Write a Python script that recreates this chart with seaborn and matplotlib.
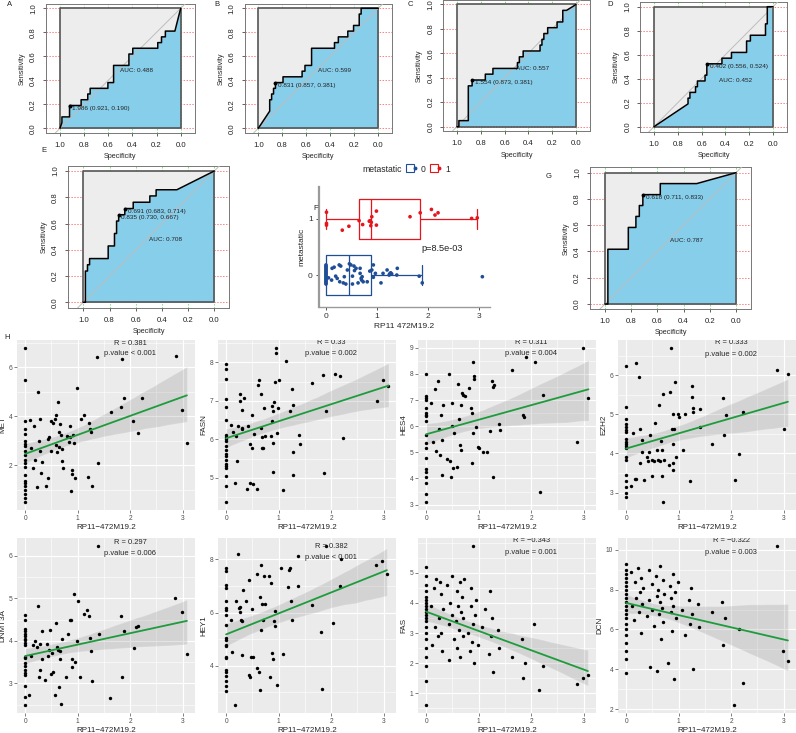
import numpy as np
import pandas as pd
import matplotlib
matplotlib.use("Agg")
import matplotlib.pyplot as plt
import matplotlib.transforms as mtransforms
from matplotlib.lines import Line2D
from matplotlib.legend_handler import HandlerTuple
from matplotlib.ticker import AutoMinorLocator
import seaborn as sns

sns.set_theme(style="white")
plt.rcParams['font.family'] = ['Liberation Sans', 'DejaVu Sans']

# --------------------------- ROC curves (specificity, sensitivity) ---------------------------
A_spec = [1.000, 0.984, 0.984, 0.921, 0.921, 0.825, 0.825, 0.770, 0.770, 0.750, 0.750, 0.603, 0.603, 0.556,
          0.556, 0.429, 0.429, 0.397, 0.397, 0.190, 0.190, 0.159, 0.159, 0.127, 0.127, 0.048, 0.000]
A_sens = [0.000, 0.048, 0.095, 0.095, 0.190, 0.190, 0.238, 0.238, 0.286, 0.286, 0.333, 0.333, 0.381, 0.381,
          0.524, 0.524, 0.619, 0.619, 0.667, 0.667, 0.714, 0.714, 0.762, 0.762, 0.810, 0.810, 1.000]

B_spec = [1.000, 0.905, 0.905, 0.889, 0.889, 0.873, 0.873, 0.857, 0.857, 0.794, 0.794, 0.635, 0.635, 0.611, 0.611,
          0.556, 0.556, 0.365, 0.365, 0.333, 0.333, 0.254, 0.254, 0.206, 0.206, 0.159, 0.159, 0.143, 0.143, 0.000]
B_sens = [0.000, 0.143, 0.238, 0.238, 0.286, 0.286, 0.333, 0.333, 0.381, 0.381, 0.429, 0.429, 0.476, 0.476, 0.524,
          0.524, 0.667, 0.667, 0.714, 0.714, 0.762, 0.762, 0.810, 0.810, 0.857, 0.857, 0.952, 0.952, 1.000, 1.000]

C_spec = [1.000, 0.984, 0.984, 0.905, 0.905, 0.873, 0.873, 0.762, 0.762, 0.698, 0.698, 0.492, 0.492, 0.476, 0.476,
          0.444, 0.444, 0.302, 0.302, 0.286, 0.286, 0.270, 0.270, 0.238, 0.238, 0.159, 0.159, 0.111, 0.111, 0.079, 0.000]
C_sens = [0.000, 0.000, 0.048, 0.048, 0.333, 0.333, 0.381, 0.381, 0.429, 0.429, 0.476, 0.476, 0.524, 0.524, 0.571,
          0.571, 0.619, 0.619, 0.667, 0.667, 0.714, 0.714, 0.762, 0.762, 0.810, 0.810, 0.857, 0.857, 0.952, 0.952, 1.000]

D_spec = [1.000, 0.714, 0.714, 0.698, 0.698, 0.651, 0.651, 0.635, 0.635, 0.571, 0.571, 0.556, 0.556, 0.429, 0.429,
          0.349, 0.349, 0.222, 0.222, 0.190, 0.190, 0.063, 0.063, 0.048, 0.048, 0.000]
D_sens = [0.000, 0.190, 0.238, 0.238, 0.286, 0.286, 0.333, 0.333, 0.381, 0.381, 0.429, 0.429, 0.524, 0.524, 0.571,
          0.571, 0.619, 0.619, 0.714, 0.714, 0.762, 0.762, 0.857, 0.857, 1.000, 1.000]

E_spec = [1.000, 0.984, 0.984, 0.968, 0.968, 0.952, 0.952, 0.810, 0.810, 0.762, 0.762, 0.746, 0.746, 0.730, 0.730,
          0.683, 0.683, 0.619, 0.619, 0.492, 0.492, 0.444, 0.444, 0.286, 0.000]
E_sens = [0.000, 0.000, 0.238, 0.238, 0.286, 0.286, 0.333, 0.333, 0.429, 0.429, 0.524, 0.524, 0.619, 0.619, 0.667,
          0.667, 0.714, 0.714, 0.762, 0.762, 0.810, 0.810, 0.857, 0.857, 1.000]

G_spec = [1.000, 0.978, 0.978, 0.822, 0.822, 0.764, 0.764, 0.738, 0.738, 0.711, 0.711, 0.578, 0.578, 0.300, 0.000]
G_sens = [0.000, 0.000, 0.417, 0.417, 0.583, 0.583, 0.667, 0.667, 0.750, 0.750, 0.833, 0.833, 0.917, 0.917, 1.000]

# best thresholds (specificity, sensitivity, label)
A_thr = [(0.921, 0.190, "1.986 (0.921, 0.190)")]
B_thr = [(0.857, 0.381, "0.831 (0.857, 0.381)")]
C_thr = [(0.873, 0.381, "1.554 (0.873, 0.381)")]
D_thr = [(0.556, 0.524, "0.402 (0.556, 0.524)")]
E_thr = [(0.683, 0.714, "0.691 (0.683, 0.714)"), (0.730, 0.667, "0.835 (0.730, 0.667)")]
G_thr = [(0.711, 0.833, "0.618 (0.711, 0.833)")]

auc_labels = {"A": "AUC: 0.488", "B": "AUC: 0.599", "C": "AUC: 0.557", "D": "AUC: 0.452",
              "E": "AUC: 0.708", "G": "AUC: 0.787"}

# --------------------------- F: boxplot data (RP11 472M19.2 by metastatic) ---------------------------
red_x = [0.01, 0.01, 0.01, 0.32, 0.45, 0.65, 0.72, 0.85, 0.87, 0.89, 0.90, 0.88, 0.99, 0.99, 1.65, 1.85, 2.07,
         2.14, 2.20, 2.86, 2.97]
red_jit = [0.12, -0.08, -0.11, -0.20, -0.13, -0.03, -0.10, -0.04, -0.03, -0.06, 0.04, -0.12, 0.14, -0.11, 0.04,
           0.11, 0.17, 0.07, 0.11, 0.01, 0.02]
blue_x = [0, 0, 0, 0, 0, 0, 0, 0, 0, 0, 0, 0, 0, 0, 0, 0, 0, 0, 0.05,
          0.12, 0.16, 0.11, 0.19, 0.22, 0.26, 0.27, 0.29, 0.34, 0.36, 0.39, 0.42, 0.46, 0.49, 0.52, 0.52, 0.55,
          0.56, 0.59, 0.63, 0.67, 0.69, 0.70, 0.71, 0.67, 0.73, 0.81, 0.86, 0.90, 0.93, 0.93, 0.97, 1.08, 1.12,
          1.20, 1.24, 1.25, 1.27, 1.29, 1.39, 1.40, 1.83, 1.89, 3.07]
blue_jit = [0.16, 0.12, 0.08, 0.04, 0.00, -0.04, -0.08, -0.12, -0.16, 0.14, 0.10, 0.06, 0.02, -0.02, -0.06, -0.10,
            -0.14, 0.18, -0.05,
            0.12, 0.14, -0.09, -0.02, -0.06, 0.18, -0.12, 0.16, -0.14, -0.03, -0.16, 0.09, 0.20, 0.18, -0.02, -0.16,
            0.16, 0.08, 0.12, -0.14, 0.12, -0.06, -0.09, -0.03, 0.03, -0.12, -0.12, 0.07, 0.09, 0.18, -0.04, 0.03,
            -0.14, 0.03, 0.09, 0.00, 0.02, 0.04, 0.02, 0.00, 0.12, -0.02, -0.14, -0.03]

# --------------------------- H: correlation scatter data ---------------------------
met_x = [0, 0, 0, 0, 0, 0, 0, 0, 0, 0, 0, 0, 0, 0, 0, 0, 0, 0, 0, 0, 0,
         0.10, 0.12, 0.15, 0.17, 0.18, 0.22, 0.24, 0.26, 0.29, 0.29, 0.30, 0.33, 0.39, 0.43, 0.43, 0.45, 0.50,
         0.50, 0.53, 0.57, 0.58, 0.59, 0.61, 0.63, 0.64, 0.65, 0.66, 0.69, 0.71, 0.71, 0.72, 0.80, 0.83, 0.85,
         0.85, 0.87, 0.89, 0.90, 0.91, 0.93, 0.95, 0.98, 1.06, 1.12, 1.19, 1.22, 1.23, 1.25, 1.28, 1.36, 1.39,
         1.64, 1.83, 1.85, 1.88, 2.06, 2.14, 2.22, 2.87, 2.99, 3.08]
met_y = [6.80, 5.47, 3.80, 3.49, 3.29, 3.00, 2.87, 2.77, 2.60, 2.40, 2.20, 2.11, 1.91, 1.60, 1.36, 1.27, 1.16,
         1.00, 0.84, 0.67, 0.49,
         3.83, 2.71, 1.87, 3.60, 2.23, 1.11, 5.00, 3.00, 3.91, 2.60, 1.67, 2.13, 1.16, 3.07, 1.47, 3.16, 2.60,
         3.80, 3.72, 3.87, 4.07, 2.83, 2.53, 4.57, 3.37, 2.76, 3.67, 3.24, 2.67, 2.16, 1.89, 3.20, 2.97, 3.16,
         3.61, 0.96, 1.64, 1.80, 3.23, 2.91, 1.47, 5.16, 3.91, 4.04, 1.51, 3.73, 3.49, 3.37, 1.16, 6.44, 2.11,
         4.16, 4.36, 6.36, 4.76, 3.80, 3.33, 4.73, 6.47, 4.25, 2.93]

fasn_x = [0, 0, 0, 0, 0, 0, 0, 0, 0, 0, 0, 0, 0, 0, 0, 0, 0, 0, 0, 0, 0,
          0.10, 0.13, 0.17, 0.19, 0.20, 0.23, 0.26, 0.26, 0.30, 0.31, 0.34, 0.30, 0.39, 0.42, 0.45, 0.46, 0.49,
          0.50, 0.51, 0.53, 0.58, 0.61, 0.63, 0.66, 0.67, 0.68, 0.69, 0.71, 0.72, 0.74, 0.85, 0.87, 0.87, 0.89,
          0.90, 0.90, 0.91, 0.94, 0.95, 0.95, 0.96, 0.98, 1.00, 1.09, 1.14, 1.22, 1.26, 1.27, 1.27, 1.28, 1.39,
          1.41, 1.64, 1.85, 1.86, 1.91, 2.07, 2.16, 2.22, 2.88, 2.99, 3.09]
fasn_y = [7.96, 7.83, 7.56, 7.05, 6.83, 6.51, 6.12, 6.07, 6.01, 5.95, 5.84, 5.73, 5.61, 5.56, 5.46, 5.37, 5.31,
          5.27, 5.05, 4.78, 4.37,
          6.37, 6.19, 4.88, 6.09, 5.44, 6.35, 7.01, 7.17, 6.26, 6.29, 7.07, 6.77, 4.71, 6.36, 5.88, 4.88, 6.64,
          5.78, 4.85, 6.15, 4.71, 7.42, 7.55, 7.19, 6.29, 6.07, 5.78, 5.78, 6.81, 6.08, 6.09, 6.47, 6.86, 6.73,
          5.92, 5.16, 6.98, 7.49, 8.24, 8.38, 6.18, 6.81, 7.55, 4.69, 8.04, 6.75, 7.31, 5.67, 5.09, 6.90, 6.12,
          5.88, 7.47, 7.66, 5.12, 6.75, 7.70, 7.64, 6.05, 7.00, 7.53, 7.39]

hes4_x = [0, 0, 0, 0, 0, 0, 0, 0, 0, 0, 0, 0, 0, 0, 0, 0, 0, 0, 0,
          0.10, 0.13, 0.17, 0.18, 0.23, 0.24, 0.26, 0.29, 0.30, 0.31, 0.33, 0.39, 0.44, 0.45, 0.47, 0.49, 0.50,
          0.51, 0.53, 0.58, 0.60, 0.63, 0.64, 0.66, 0.67, 0.68, 0.71, 0.74, 0.82, 0.85, 0.87, 0.87, 0.89, 0.90,
          0.91, 0.92, 0.95, 0.98, 1.00, 1.08, 1.16, 1.22, 1.25, 1.27, 1.28, 1.29, 1.38, 1.41, 1.64, 1.85, 1.86,
          1.90, 2.07, 2.16, 2.22, 2.88, 2.99, 3.09]
hes4_y = [8.00, 7.16, 7.06, 7.00, 6.71, 6.50, 6.44, 6.38, 6.19, 5.65, 5.35, 5.15, 4.79, 4.38, 4.23, 4.06, 3.84,
          3.41, 3.09,
          6.88, 5.41, 7.41, 5.04, 7.73, 5.88, 4.88, 6.44, 4.13, 5.46, 6.81, 4.73, 8.00, 4.66, 4.06, 6.88, 6.00,
          4.41, 5.73, 4.44, 7.63, 6.29, 5.29, 5.09, 6.81, 7.28, 7.21, 7.16, 7.46, 6.69, 6.50, 4.60, 5.75, 8.44,
          7.90, 7.81, 5.96, 5.19, 5.16, 5.00, 5.00, 5.81, 7.71, 4.06, 7.50, 7.56, 6.09, 5.84, 8.13, 6.44, 6.36,
          8.63, 8.46, 3.48, 7.21, 5.41, 9.00, 7.06]

ezh2_x = [0, 0, 0, 0, 0, 0, 0, 0, 0, 0, 0, 0, 0, 0, 0, 0, 0, 0, 0,
          0.10, 0.13, 0.17, 0.18, 0.19, 0.24, 0.26, 0.26, 0.30, 0.31, 0.34, 0.39, 0.42, 0.44, 0.45, 0.49, 0.50,
          0.53, 0.55, 0.58, 0.60, 0.63, 0.64, 0.66, 0.68, 0.69, 0.71, 0.71, 0.73, 0.81, 0.83, 0.85, 0.87, 0.89,
          0.89, 0.90, 0.90, 0.92, 0.94, 0.95, 0.98, 1.00, 1.08, 1.13, 1.21, 1.26, 1.26, 1.27, 1.28, 1.40, 1.41,
          1.64, 1.85, 1.86, 1.90, 2.15, 2.07, 2.22, 2.88, 3.00, 3.08]
ezh2_y = [6.23, 5.18, 4.88, 4.75, 4.67, 4.61, 4.54, 4.38, 4.29, 4.25, 4.18, 4.13, 3.92, 3.83, 3.46, 3.29, 3.13,
          3.00, 2.88,
          3.17, 4.52, 3.35, 6.32, 3.35, 5.96, 4.63, 3.75, 4.35, 4.04, 3.33, 3.92, 3.82, 4.04, 4.48, 3.83, 3.43,
          3.82, 4.77, 4.10, 3.83, 5.25, 3.82, 4.33, 3.42, 4.10, 5.52, 2.75, 3.83, 3.71, 5.58, 6.71, 4.63, 5.02,
          4.25, 3.75, 3.58, 4.63, 5.83, 3.92, 5.00, 4.93, 4.08, 5.02, 3.29, 5.73, 5.46, 5.17, 5.07, 5.13, 4.67,
          4.25, 5.43, 4.48, 4.98, 3.98, 3.31, 5.06, 6.13, 4.64, 6.04]

dnmt3a_x = [0, 0, 0, 0, 0, 0, 0, 0, 0, 0, 0, 0, 0, 0, 0, 0, 0, 0, 0, 0,
            0.08, 0.11, 0.15, 0.18, 0.22, 0.24, 0.26, 0.28, 0.29, 0.32, 0.32, 0.37, 0.42, 0.44, 0.45, 0.48, 0.49,
            0.51, 0.53, 0.57, 0.59, 0.61, 0.63, 0.64, 0.66, 0.67, 0.71, 0.69, 0.77, 0.82, 0.85, 0.87, 0.89, 0.90,
            0.93, 0.95, 0.98, 1.00, 1.04, 1.12, 1.17, 1.21, 1.23, 1.25, 1.27, 1.38, 1.40, 1.62, 1.83, 1.85, 1.88,
            2.12, 2.07, 2.15, 2.86, 2.99, 3.08]
dnmt3a_y = [4.60, 4.50, 4.28, 4.23, 4.17, 4.11, 4.05, 4.01, 3.94, 3.91, 3.61, 3.59, 3.47, 3.40, 3.31, 3.24, 3.20,
            2.93, 2.69, 2.49,
            2.72, 3.65, 3.89, 3.99, 3.85, 4.83, 3.16, 3.31, 3.93, 4.24, 3.57, 3.08, 3.93, 3.65, 3.79, 4.26, 3.22,
            3.71, 3.26, 2.73, 4.42, 3.85, 3.79, 2.91, 3.57, 3.77, 4.05, 2.51, 3.16, 4.17, 4.48, 4.48, 3.39, 3.57,
            5.11, 3.50, 3.99, 4.94, 3.14, 4.62, 4.72, 4.59, 4.07, 3.77, 3.05, 6.23, 4.17, 2.65, 4.58, 3.14, 4.24,
            4.32, 3.83, 4.36, 5.01, 4.68, 3.69]

hey1_x = [0, 0, 0, 0, 0, 0, 0, 0, 0, 0, 0, 0, 0, 0, 0, 0, 0, 0, 0, 0, 0,
          0.10, 0.12, 0.17, 0.19, 0.22, 0.24, 0.26, 0.27, 0.28, 0.30, 0.31, 0.33, 0.38, 0.43, 0.43, 0.45, 0.47,
          0.49, 0.52, 0.58, 0.59, 0.62, 0.64, 0.65, 0.67, 0.67, 0.68, 0.70, 0.72, 0.75, 0.81, 0.84, 0.86, 0.88,
          0.90, 0.91, 0.93, 0.94, 0.96, 1.04, 1.09, 1.18, 1.20, 1.22, 1.23, 1.26, 1.36, 1.36, 1.63, 1.80, 1.82,
          1.90, 2.03, 2.16, 2.19, 2.86, 2.96, 3.06]
hey1_y = [7.66, 7.58, 7.04, 6.94, 6.42, 6.16, 6.08, 5.89, 5.54, 5.04, 4.98, 4.76, 4.72, 4.33, 4.27, 3.84, 3.74,
          3.62, 3.43, 3.22, 3.04,
          5.71, 4.52, 2.51, 6.45, 8.21, 6.16, 6.03, 6.22, 5.73, 5.67, 4.39, 6.84, 6.42, 7.23, 3.65, 3.58, 4.34,
          6.12, 4.34, 3.91, 7.45, 3.74, 3.09, 6.58, 5.34, 7.78, 6.32, 5.71, 7.39, 6.32, 7.39, 3.58, 7.13, 4.47,
          4.23, 5.69, 5.51, 6.06, 3.26, 7.69, 4.43, 6.97, 7.62, 7.67, 6.42, 5.73, 8.12, 7.00, 6.29, 5.25, 3.13,
          8.51, 5.60, 7.00, 8.01, 7.78, 7.95, 7.47]

fas_y = [5.20, 4.90, 4.60, 4.40, 4.20, 4.10, 4.00, 3.90, 3.80, 3.70, 3.60, 3.50, 3.40, 3.20, 3.00, 2.80, 2.50,
         2.20, 1.90, 1.40, 0.60,
         3.9, 2.6, 4.5, 3.2, 4.8, 2.9, 3.5, 4.7, 3.0, 4.3, 2.4, 3.8, 4.6, 3.3, 2.1, 4.0, 3.6, 4.9, 2.8, 3.4,
         4.4, 2.5, 3.9, 3.1, 4.7, 2.2, 3.7, 4.2, 2.9, 3.5, 4.8, 3.0, 2.4, 3.9, 4.5, 2.7, 3.3, 5.9, 2.0, 3.6,
         4.1, 2.6, 3.2, 3.8, 2.3, 4.4, 2.9, 3.5, 1.7, 3.1, 2.5, 2.2, 2.8, 1.5, 2.0, 3.3, 1.1, 1.9, 1.3, 1.5, 1.6]

dcn_y = [9.30, 9.00, 8.80, 8.60, 8.40, 8.20, 8.00, 7.80, 7.60, 7.40, 7.20, 7.00, 6.80, 6.60, 6.30, 6.00, 5.70,
         5.30, 4.90, 4.50, 3.80,
         8.9, 7.2, 6.5, 8.4, 7.6, 9.1, 6.9, 7.9, 8.6, 5.8, 7.3, 8.1, 6.7, 9.0, 7.5, 4.1, 8.3, 7.0, 6.2, 8.7,
         7.7, 3.9, 8.0, 6.8, 7.4, 9.2, 5.5, 7.1, 8.5, 6.4, 7.8, 4.3, 8.2, 6.9, 7.6, 5.9, 8.8, 7.2, 3.5, 7.9,
         6.6, 8.4, 7.0, 5.7, 7.5, 6.3, 8.1, 6.8, 4.0, 7.3, 6.1, 6.9, 7.4, 5.2, 6.6, 2.2, 6.0, 3.3, 10.2, 4.9, 4.4]

# --------------------------- Figure setup ---------------------------
W, H = 796, 733
fig = plt.figure(figsize=(W / 100, H / 100), dpi=100)
fig.patch.set_facecolor("white")


def px_axes(left, top, width, height):
    # place an axes by pixel position (from top-left of the figure)
    return fig.add_axes([left / W, 1 - (top + height) / H, width / W, height / H])


def roc_panel(bl, bt, ux, uy, spec, sens, thr, auc_txt, auc_xy):
    ax = px_axes(bl - 0.115 * ux, bt - 0.04 * uy, 1.23 * ux, 1.08 * uy)
    ax.set_xlim(1.115, -0.115)
    ax.set_ylim(-0.04, 1.04)
    ax.set_facecolor("white")
    grid_vals = [0, 0.2, 0.4, 0.6, 0.8, 1.0]
    for v in grid_vals:
        ax.axvline(v, color="#7CE07C", ls=(0, (1.5, 1.5)), lw=0.7, zorder=0)
        ax.axhline(v, color="#FF7F7F", ls=(0, (1.5, 1.5)), lw=0.7, zorder=0)
    ax.fill([1, 0, 0, 1], [0, 0, 1, 1], facecolor="#EDEDED", edgecolor="none", zorder=1)
    ax.fill_between(spec, sens, 0, color="#87CEEB", lw=0, zorder=2)
    ax.plot([1, 0, 0, 1, 1], [0, 0, 1, 1, 0], color="#555555", lw=1.2, zorder=3)
    ax.plot([1.2, -0.2], [-0.2, 1.2], color="#BDBDBD", lw=0.7, zorder=4)
    sns.lineplot(x=spec, y=sens, sort=False, estimator=None, color="black", lw=1.1, ax=ax, zorder=5)
    for sp, se, lab in thr:
        ax.plot(sp, se, "o", color="black", ms=1.8, zorder=6)
        ax.annotate(lab, (sp, se), xytext=(2, -0.3), textcoords="offset points", ha="left", va="top",
                    fontsize=4.6, color="#222222", zorder=7)
    ax.text(auc_xy[0], auc_xy[1], auc_txt, ha="left", va="top", fontsize=4.6, color="#222222", zorder=7)
    ax.set_xticks(grid_vals)
    ax.set_xticklabels([f"{v:.1f}" for v in grid_vals])
    ax.set_yticks(grid_vals)
    ax.set_yticklabels([f"{v:.1f}" for v in grid_vals], rotation=90, va="center")
    ax.tick_params(length=2.5, width=0.5, pad=4, labelsize=5.6, colors="#222222", bottom=True, left=True)
    ax.set_xlabel("Specificity", fontsize=5.2, labelpad=3)
    ax.set_ylabel("Sensitivity", fontsize=5.2, labelpad=3)
    for s in ax.spines.values():
        s.set_edgecolor("#777777")
        s.set_linewidth(0.7)
    return ax


# --------------------------- ROC panels A-D, E, G ---------------------------
roc_panel(60.0, 8.3, 120.7, 120.0, A_spec, A_sens, A_thr, auc_labels["A"], (0.50, 0.50))
roc_panel(258.3, 8.3, 120.0, 120.0, B_spec, B_sens, B_thr, auc_labels["B"], (0.50, 0.50))
roc_panel(457.0, 4.5, 119.0, 122.0, C_spec, C_sens, C_thr, auc_labels["C"], (0.50, 0.50))
roc_panel(654.0, 6.7, 119.0, 120.0, D_spec, D_sens, D_thr, auc_labels["D"], (0.45, 0.41))
roc_panel(83.3, 171.0, 131.0, 131.3, E_spec, E_sens, E_thr, auc_labels["E"], (0.50, 0.50))
roc_panel(605.0, 172.7, 131.0, 131.3, G_spec, G_sens, G_thr, auc_labels["G"], (0.50, 0.50))

# --------------------------- F: boxplot ---------------------------
col0, col1 = "#1F4E96", "#E8141B"
box_df = pd.DataFrame({
    "value": red_x + blue_x,
    "group": [1] * len(red_x) + [0] * len(blue_x),
    "jit": red_jit + blue_jit,
})
box_df["ypos"] = box_df["group"] + box_df["jit"]

axF = px_axes(319, 187, 171, 120)
sns.boxplot(data=box_df, x="value", y="group", hue="group", orient="h", native_scale=True,
            palette={0: col0, 1: col1}, fill=False, width=0.7, showfliers=False, linewidth=0.9,
            dodge=False, legend=False, ax=axF)
sns.scatterplot(data=box_df, x="value", y="ypos", hue="group", palette={0: col0, 1: col1},
                s=7, linewidth=0, legend=False, ax=axF, zorder=5)
axF.set_xlim(-0.137, 3.22)
axF.set_ylim(-0.57, 1.57)
axF.set_xticks([0, 1, 2, 3])
axF.set_yticks([0, 1])
axF.set_yticklabels(["0", "1"])
axF.tick_params(length=2.5, width=0.6, pad=2, labelsize=6, colors="#333333", bottom=True, left=True)
axF.set_xlabel("RP11 472M19.2", fontsize=6, labelpad=2)
axF.set_ylabel("metastatic", fontsize=6, labelpad=2)
axF.spines["top"].set_visible(False)
axF.spines["right"].set_visible(False)
axF.spines["left"].set_color("#9A9A9A")
axF.spines["left"].set_linewidth(1.6)
axF.spines["bottom"].set_color("#9A9A9A")
axF.spines["bottom"].set_linewidth(1.0)
axF.text(2.27, 0.48, "p=8.5e-03", ha="center", va="center", fontsize=6.6, color="#222222")

fig.text(362 / W, 1 - 169 / H, "metastatic", ha="left", va="center", fontsize=6.2)
leg_handles = [
    (Line2D([], [], marker="s", ms=6, mfc="white", mec=col0, mew=0.8, lw=0),
     Line2D([], [], marker="o", ms=1.8, color=col0, lw=0)),
    (Line2D([], [], marker="s", ms=6, mfc="white", mec=col1, mew=0.8, lw=0),
     Line2D([], [], marker="o", ms=1.8, color=col1, lw=0)),
]
fig.legend(leg_handles, ["0", "1"], handler_map={tuple: HandlerTuple(ndivide=None, pad=0)},
           loc="center left", bbox_to_anchor=(403 / W, 1 - 169 / H), ncol=2, frameon=False,
           fontsize=6.2, handlelength=1.2, handletextpad=0.4, columnspacing=0.6, borderpad=0)

# --------------------------- H: scatter panels with linear fit ---------------------------
green = "#1E9B3C"


def scatter_panel(left, top, x, y, ylab, yticks, r_txt, p_txt, r_y, p_y):
    ax = px_axes(left, top, 178, 170 if top < 400 else 175)
    ax.set_facecolor("#EBEBEB")
    sns.regplot(x=x, y=y, ax=ax, scatter=False, color="0.3", line_kws=dict(lw=0), seed=11)
    sns.regplot(x=x, y=y, ax=ax, ci=None, color="black",
                scatter_kws=dict(s=6, color="black", linewidths=0, alpha=1, zorder=3),
                line_kws=dict(color=green, lw=1.3, zorder=4))
    ax.set_xlim(-0.154, 3.234)
    ax.margins(y=0.05)
    ax.set_xticks([0, 1, 2, 3])
    ax.set_yticks(yticks)
    ax.xaxis.set_minor_locator(AutoMinorLocator(2))
    ax.yaxis.set_minor_locator(AutoMinorLocator(2))
    ax.set_axisbelow(True)
    ax.grid(which="major", color="white", lw=0.8)
    ax.grid(which="minor", color="white", lw=0.4)
    ax.tick_params(which="major", length=2, width=0.5, pad=1.5, labelsize=4.8, colors="#4D4D4D",
                   bottom=True, left=True)
    ax.tick_params(which="minor", length=0)
    for s in ax.spines.values():
        s.set_visible(False)
    ax.set_xlabel("RP11\u2212472M19.2", fontsize=5.8, labelpad=1.5)
    ax.set_ylabel(ylab, fontsize=5.8, labelpad=1.5)
    trans = mtransforms.blended_transform_factory(ax.transData, ax.transAxes)
    ax.text(2.0, r_y, r_txt, transform=trans, ha="center", va="center", fontsize=5.4, clip_on=True)
    ax.text(2.0, p_y, p_txt, transform=trans, ha="center", va="center", fontsize=5.4, clip_on=True)
    return ax


scatter_panel(17, 340, met_x, met_y, "MET", [2, 4, 6], "R = 0.381", "p.value < 0.001", 0.982, 0.92)
scatter_panel(218, 340, fasn_x, fasn_y, "FASN", [5, 6, 7, 8], "R = 0.33", "p.value = 0.002", 0.984, 0.92)
scatter_panel(418, 340, hes4_x, hes4_y, "HES4", [3, 4, 5, 6, 7, 8, 9], "R = 0.311", "p.value = 0.004", 0.984, 0.92)
scatter_panel(618, 340, ezh2_x, ezh2_y, "EZH2", [3, 4, 5, 6], "R = 0.333", "p.value = 0.002", 0.984, 0.915)
scatter_panel(17, 538, dnmt3a_x, dnmt3a_y, "DNMT3A", [3, 4, 5, 6], "R = 0.297", "p.value = 0.006", 0.977, 0.914)
scatter_panel(218, 538, hey1_x, hey1_y, "HEY1", [4, 6, 8], "R = 0.382", "p.value < 0.001", 0.954, 0.89)
scatter_panel(418, 538, met_x, fas_y, "FAS", [1, 2, 3, 4, 5], "R = \u22120.343", "p.value = 0.001", 0.985, 0.92)
scatter_panel(618, 538, met_x, dcn_y, "DCN", [2, 4, 6, 8, 10], "R = \u22120.322", "p.value = 0.003", 0.985, 0.92)

# --------------------------- panel letters ---------------------------
for letter, (lx, ly) in {"A": (10, 5), "B": (217, 5), "C": (410, 4), "D": (610, 4), "E": (44, 150),
                         "F": (316, 208), "G": (549, 177), "H": (7, 338)}.items():
    fig.text(lx / W, 1 - ly / H, letter, fontsize=5.5, ha="center", va="center", color="#222222")

plt.savefig("out.png", dpi=100)
